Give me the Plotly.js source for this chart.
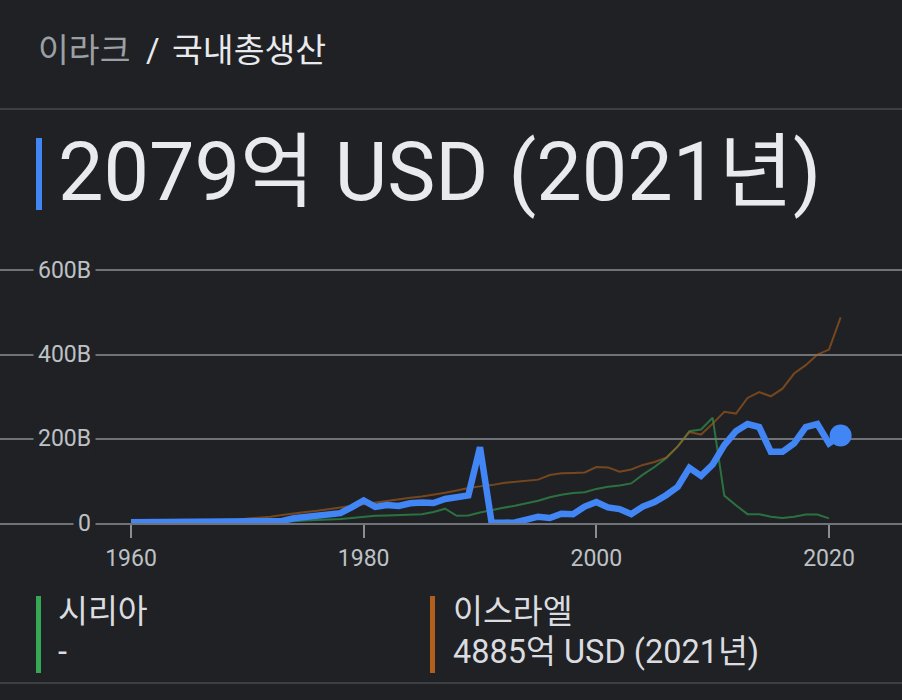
<!DOCTYPE html>
<html>
<head>
<meta charset="utf-8">
<script src="https://cdn.plot.ly/plotly-3.0.1.min.js"></script>
<style>
html,body{margin:0;padding:0;background:#202124;}
#chart{width:902px;height:700px;}
</style>
</head>
<body>
<div id="chart"></div>
<script>
// ---- data (billions of USD) ----
const years = [];
for (let y = 1960; y <= 2021; y++) years.push(y);

const iraq = [1.7,1.8,2.0,1.9,2.2,2.4,2.6,2.7,3.0,3.1,
  3.3,3.7,4.1,4.8,11.1,13.8,17.4,20.2,23.5,37.8,
  53.6,38.2,42.6,40.6,46.9,48.6,47.6,57.0,62.5,65.6,
  180.0,0.5,0.6,1.2,8,15,12,22,21,39,
  50,37,33,21,39,50,66,86,131,112,
  139,185,218,235,228,169,169,189,228,235,
  189,207.9];

const syria = [0.9,1.0,1.1,1.2,1.3,1.4,1.5,1.6,1.8,2.0,
  2.1,2.3,2.6,3.0,4,6,7,8,9.5,12,
  15,17,18,19,20,21,26,34,17,18,
  25,31,36,41,47,53,61,67,71,73,
  81,86,89,94,115,133,154,182,218,222,
  250,65,42,21,21,15,12,15,20,20,
  11,null];

const israel = [2.6,2.9,3.1,3.6,4.1,4.6,5.0,5.3,6.0,7.0,
  11,13,15,19,23,26,29,33,37,41,
  45,49,52,56,60,63,67,72,77,83,
  87,90,95,98,101,103,114,118,119,120,
  133,132,122,127,138,145,155,182,216,210,
  236,264,260,297,311,301,319,355,375,400,
  412,488.5];

const xTicks = [1960,1980,2000,2020];
const yTicks = [0,200,400,600];
const yTickText = ['0','200B','400B','600B'];

const headerCountry = '이라크';
const headerIndicator = '국내총생산';
const headline = '2079억 USD (2021년)';
const legendNames = ['시리아','이스라엘'];
const legendValues = ['-','4885억 USD (2021년)'];

// ---- colours / layout helpers ----
const BG = '#202124';
const FONT = "Roboto, 'Noto Sans CJK KR', sans-serif";
const W = 902, H = 700;
const PLOT_TOP = 262, PLOT_BOTTOM = 523;
const PH = PLOT_BOTTOM - PLOT_TOP;
const px = x => x / W;
const py = y => (PLOT_BOTTOM - y) / PH;

const traces = [
  {x: years, y: syria, type: 'scatter', mode: 'lines',
   line: {color: '#34a853', width: 2}, opacity: 0.6, hoverinfo: 'skip'},
  {x: years, y: israel, type: 'scatter', mode: 'lines',
   line: {color: '#b0601c', width: 2}, opacity: 0.6, hoverinfo: 'skip'},
  {x: years, y: iraq, type: 'scatter', mode: 'lines',
   line: {color: '#4285f4', width: 6.5, shape: 'linear'}, hoverinfo: 'skip', cliponaxis: false},
  {x: [years[years.length-1]], y: [iraq[iraq.length-1]], type: 'scatter', mode: 'markers',
   marker: {color: '#4285f4', size: 22}, hoverinfo: 'skip', cliponaxis: false}
];

const annotations = [];
function txt(text, x, y, size, color, anchor) {
  annotations.push({text: text, xref: 'paper', yref: 'paper', x: px(x), y: py(y),
    xanchor: anchor || 'left', yanchor: 'middle', showarrow: false,
    font: {family: FONT, size: size, color: color}});
}
txt(headerCountry, 36, 50, 33.5, '#9aa0a6');
txt('/', 144, 50, 33, '#e8eaed');
txt(headerIndicator, 170, 50, 33.5, '#e8eaed');
txt(headline, 56, 172, 81, '#e8eaed');
txt(legendNames[0], 56, 612, 32.5, '#dadce0');
txt(legendValues[0], 56, 652, 32.5, '#dadce0');
txt(legendNames[1], 451, 612, 32.5, '#dadce0');
txt(legendValues[1], 451, 652, 32.5, '#dadce0');

yTicks.forEach((v, i) => {
  annotations.push({text: yTickText[i], xref: 'paper', yref: 'y', x: px(96), y: v,
    xanchor: 'right', yanchor: 'middle', showarrow: false, bgcolor: BG, borderpad: 4,
    font: {family: FONT, size: 23, color: '#bdc1c6'}});
});

function hline(y, color, w) {
  return {type: 'line', xref: 'paper', yref: 'paper', x0: 0, x1: 1, y0: py(y), y1: py(y),
    line: {color: color, width: w}};
}
function rect(x0, x1, y0, y1, color) {
  return {type: 'rect', xref: 'paper', yref: 'paper', x0: px(x0), x1: px(x1), y0: py(y1), y1: py(y0),
    fillcolor: color, line: {width: 0}};
}
const shapes = [
  hline(109, '#3c4043', 2),
  hline(683, '#3c4043', 2),
  rect(36, 42, 138, 210, '#4285f4'),
  rect(36, 41, 596, 673, '#34a853'),
  rect(430, 435, 596, 673, '#b0601c')
];

const pxPerYear = (829 - 131) / 60;
const layout = {
  width: W, height: H,
  paper_bgcolor: BG, plot_bgcolor: BG,
  margin: {l: 0, r: 0, t: PLOT_TOP, b: H - PLOT_BOTTOM, pad: 0},
  showlegend: false,
  font: {family: FONT, color: '#bdc1c6'},
  xaxis: {
    range: [1960 - 131 / pxPerYear, 2020 + (902 - 829) / pxPerYear],
    tickvals: xTicks, ticktext: xTicks.map(String),
    ticks: 'outside', ticklen: 13, tickwidth: 2, tickcolor: '#8a8d91',
    tickfont: {family: FONT, size: 23, color: '#bdc1c6'},
    showgrid: false, zeroline: false,
    showline: true, linecolor: '#6f7276', linewidth: 2,
    fixedrange: true
  },
  yaxis: {
    range: [0, 620],
    tickvals: yTicks, showticklabels: false, ticks: '',
    showgrid: true, gridcolor: '#6f7276', gridwidth: 2,
    zeroline: false, showline: false, fixedrange: true
  },
  annotations: annotations,
  shapes: shapes
};

Plotly.newPlot('chart', traces, layout, {displayModeBar: false, staticPlot: true});
</script>
</body>
</html>
